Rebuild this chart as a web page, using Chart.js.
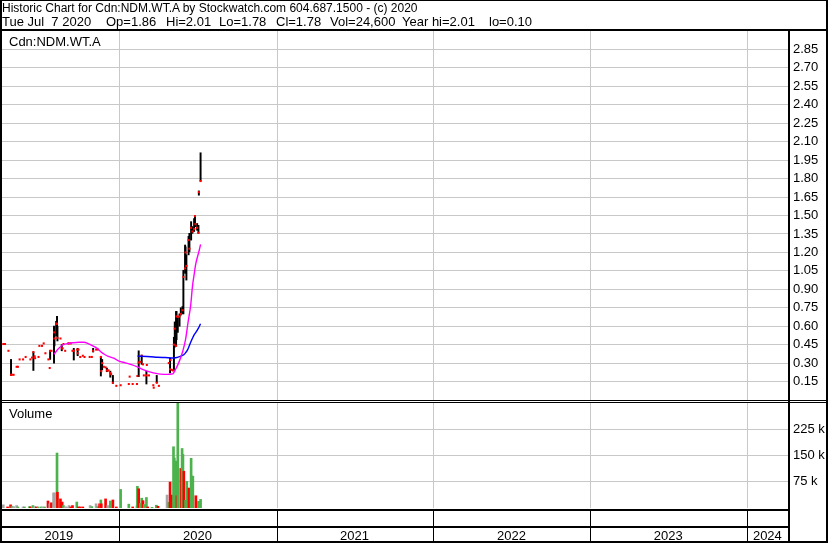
<!DOCTYPE html>
<html>
<head>
<meta charset="utf-8">
<title>Historic Chart for Cdn:NDM.WT.A</title>
<script src="https://cdn.jsdelivr.net/npm/chart.js@4"></script>
<style>
  body { margin: 0; background: #fff; }
  #wrap {
    position: relative;
    width: 830px;
    height: 543px;
    overflow: hidden;
    background: #fff;
    font-family: 'Liberation Sans', Arial, sans-serif;
    font-size: 13px;
    color: #000;
  }
  #wrap canvas { position: absolute; left: 0; }
  #chartPrice { top: 0; }
  #chartVolume { top: 401px; }
  .txt { position: absolute; white-space: pre; line-height: 14px; z-index: 2; }
  .head { font-size: 12px; }
</style>
</head>
<body>
<div id="wrap">
  <canvas id="chartPrice" width="830" height="401"></canvas>
  <canvas id="chartVolume" width="830" height="142"></canvas>
  <div class="txt head" style="left:2px;top:1px">Historic Chart for Cdn:NDM.WT.A by Stockwatch.com 604.687.1500 - (c) 2020</div>
  <div class="txt" style="left:2px;top:15px">Tue Jul  7 2020</div>
  <div class="txt" style="left:106px;top:15px">Op=1.86</div>
  <div class="txt" style="left:166px;top:15px">Hi=2.01</div>
  <div class="txt" style="left:219px;top:15px">Lo=1.78</div>
  <div class="txt" style="left:276px;top:15px">Cl=1.78</div>
  <div class="txt" style="left:330px;top:15px">Vol=24,600</div>
  <div class="txt" style="left:402px;top:15px">Year hi=2.01</div>
  <div class="txt" style="left:489px;top:15px">lo=0.10</div>
  <div class="txt" style="left:9px;top:35px">Cdn:NDM.WT.A</div>
  <div class="txt" style="left:9px;top:407px">Volume</div>
</div>
<script>
// visible time span and year grid
const axisStart = '2019-04-02';
const axisEnd = '2024-04-06';
const yearStarts = ['2020-01-01', '2021-01-01', '2022-01-01', '2023-01-01', '2024-01-01'];
const yearLabels = ['2019', '2020', '2021', '2022', '2023', '2024'];

// right axis ticks
const priceTicks = [0.15, 0.3, 0.45, 0.6, 0.75, 0.9, 1.05, 1.2, 1.35, 1.5, 1.65, 1.8, 1.95, 2.1, 2.25, 2.4, 2.55, 2.7, 2.85];
const volumeTicks = [75000, 150000, 225000];

// daily trades (null high/low = single price day)
const priceDates = [
  '2019-04-05', '2019-04-09', '2019-04-17', '2019-04-23', '2019-04-25', '2019-04-29', '2019-05-06', '2019-05-09', '2019-05-13', '2019-05-21',
  '2019-05-27', '2019-06-07', '2019-06-11', '2019-06-14', '2019-06-17', '2019-06-18', '2019-06-26', '2019-06-28', '2019-07-04', '2019-07-08',
  '2019-07-12', '2019-07-19', '2019-07-22', '2019-07-23', '2019-07-26', '2019-08-01', '2019-08-02', '2019-08-06', '2019-08-08', '2019-08-09',
  '2019-08-16', '2019-08-19', '2019-08-21', '2019-08-23', '2019-08-27', '2019-09-03', '2019-09-05', '2019-09-09', '2019-09-13', '2019-09-16',
  '2019-09-24', '2019-09-25', '2019-09-27', '2019-10-01', '2019-10-07', '2019-10-11', '2019-10-23', '2019-10-28', '2019-10-31', '2019-11-07',
  '2019-11-11', '2019-11-18', '2019-11-19', '2019-11-21', '2019-11-25', '2019-11-29', '2019-12-02', '2019-12-04', '2019-12-06', '2019-12-10',
  '2019-12-12', '2019-12-16', '2019-12-24', '2020-01-03', '2020-01-22', '2020-01-24', '2020-01-31', '2020-02-10', '2020-02-11', '2020-02-14',
  '2020-02-18', '2020-02-21', '2020-02-24', '2020-02-26', '2020-03-03', '2020-03-04', '2020-03-09', '2020-03-19', '2020-03-20', '2020-03-27',
  '2020-04-01', '2020-04-24', '2020-04-27', '2020-04-28', '2020-05-01', '2020-05-04', '2020-05-06', '2020-05-08', '2020-05-11', '2020-05-12',
  '2020-05-15', '2020-05-19', '2020-05-22', '2020-05-26', '2020-05-28', '2020-06-01', '2020-06-02', '2020-06-04', '2020-06-09', '2020-06-11',
  '2020-06-15', '2020-06-18', '2020-06-22', '2020-06-24', '2020-06-25', '2020-06-29', '2020-07-02', '2020-07-03', '2020-07-07',
];
const priceCloses = [
  0.455, 0.455, 0.4, 0.205, 0.205, 0.205, 0.27, 0.27, 0.33, 0.33,
  0.35, 0.33, 0.345, 0.39, 0.355, 0.34, 0.35, 0.44, 0.44, 0.46,
  0.38, 0.33, 0.26, 0.4, 0.4, 0.55, 0.5, 0.62, 0.62, 0.505,
  0.5, 0.42, 0.42, 0.455, 0.4, 0.46, 0.46, 0.46, 0.4, 0.4,
  0.41, 0.38, 0.41, 0.35, 0.36, 0.35, 0.35, 0.35, 0.4, 0.41,
  0.41, 0.35, 0.235, 0.3, 0.27, 0.265, 0.24, 0.24, 0.24, 0.22,
  0.21, 0.14, 0.115, 0.12, 0.13, 0.19, 0.13, 0.13, 0.195, 0.305,
  0.31, 0.36, 0.29, 0.2, 0.2, 0.285, 0.2, 0.12, 0.1, 0.14,
  0.115, 0.3, 0.25, 0.325, 0.245, 0.24, 0.45, 0.58, 0.44, 0.68,
  0.675, 0.68, 0.7, 0.73, 1.0, 1.07, 1.2, 1.09, 1.3, 1.23,
  1.4, 1.37, 1.39, 1.495, 1.43, 1.4, 1.36, 1.69, 1.78,
];
const priceHighs = [
  null, null, null, 0.33, null, null, null, null, null, null,
  null, null, null, 0.39, null, null, null, null, null, null,
  null, null, null, 0.4, null, 0.6, 0.53, 0.64, 0.68, 0.6,
  null, 0.45, null, null, null, null, null, null, null, 0.42,
  null, 0.42, null, null, null, null, null, null, 0.42, null,
  null, 0.35, null, 0.33, null, null, 0.26, null, null, 0.235,
  null, 0.2, null, null, null, null, null, null, null, 0.4,
  null, 0.365, null, null, 0.235, null, null, null, null, 0.2,
  null, null, 0.34, null, null, null, 0.51, 0.635, 0.72, 0.72,
  0.68, 0.7, 0.75, 0.76, 1.055, 1.26, 1.245, 1.18, 1.33, 1.355,
  1.45, 1.41, 1.475, 1.495, null, 1.435, 1.42, 1.7, 2.01,
];
const priceLows = [
  null, null, null, 0.2, null, null, null, null, null, null,
  null, null, null, 0.24, null, null, null, null, null, null,
  null, null, null, 0.33, null, 0.3, 0.44, 0.52, 0.54, 0.48,
  null, 0.4, null, null, null, null, null, null, null, 0.325,
  null, 0.36, null, null, null, null, null, null, 0.39, null,
  null, 0.195, null, 0.245, null, null, 0.23, null, null, 0.185,
  null, 0.135, null, null, null, null, null, null, null, 0.19,
  null, 0.29, null, null, 0.13, null, null, null, null, 0.14,
  null, null, 0.22, null, null, null, 0.24, 0.43, 0.44, 0.49,
  0.55, 0.6, 0.69, 0.7, 0.7, 1.03, 1.08, 0.975, 1.18, 1.205,
  1.3, 1.355, 1.37, 1.41, null, 1.38, 1.355, 1.665, 1.78,
];

// moving averages as drawn
const avgShortDates = [
  '2019-08-01', '2019-08-09', '2019-08-20', '2019-09-01', '2019-09-13', '2019-09-28', '2019-10-10', '2019-10-18', '2019-10-29', '2019-11-10',
  '2019-11-17', '2019-11-27', '2019-12-07', '2019-12-18', '2019-12-29', '2020-01-14', '2020-01-28', '2020-02-11', '2020-02-26', '2020-03-13',
  '2020-03-25', '2020-04-05', '2020-04-19', '2020-05-03', '2020-05-10', '2020-05-18', '2020-05-26', '2020-06-02', '2020-06-08', '2020-06-14',
  '2020-06-18', '2020-06-22', '2020-06-26', '2020-07-03', '2020-07-07',
];
const avgShortValues = [
  0.372, 0.408, 0.445, 0.458, 0.465, 0.47, 0.47, 0.46, 0.442, 0.418,
  0.395, 0.37, 0.352, 0.34, 0.318, 0.302, 0.288, 0.27, 0.245, 0.226,
  0.216, 0.21, 0.208, 0.212, 0.25, 0.31, 0.39, 0.49, 0.635, 0.77,
  0.92, 1.02, 1.11, 1.205, 1.265,
];
const avgLongDates = [
  '2020-02-11', '2020-03-13', '2020-03-28', '2020-04-16', '2020-05-06', '2020-05-17', '2020-05-26', '2020-05-31',
  '2020-06-07', '2020-06-10', '2020-06-14', '2020-06-22', '2020-06-26', '2020-07-02', '2020-07-07',
];
const avgLongValues = [
  0.357, 0.352, 0.348, 0.345, 0.342, 0.35, 0.362, 0.375,
  0.41, 0.435, 0.47, 0.53, 0.55, 0.585, 0.62,
];

// volume (u = up, d = down, n = unchanged)
const volumeDates = [
  '2019-04-05', '2019-04-15', '2019-04-22', '2019-04-25', '2019-04-29', '2019-05-06', '2019-05-09', '2019-05-21', '2019-05-24', '2019-06-05',
  '2019-06-07', '2019-06-13', '2019-06-17', '2019-06-21', '2019-06-25', '2019-07-02', '2019-07-05', '2019-07-10', '2019-07-18', '2019-07-22',
  '2019-07-26', '2019-07-31', '2019-08-02', '2019-08-08', '2019-08-09', '2019-08-16', '2019-08-20', '2019-08-23', '2019-08-27', '2019-08-30',
  '2019-09-05', '2019-09-09', '2019-09-13', '2019-09-23', '2019-09-27', '2019-10-01', '2019-10-07', '2019-10-24', '2019-10-28', '2019-11-07',
  '2019-11-11', '2019-11-15', '2019-11-18', '2019-11-19', '2019-11-29', '2019-12-04', '2019-12-10', '2019-12-16', '2019-12-24', '2020-01-03',
  '2020-01-22', '2020-01-31', '2020-02-10', '2020-02-11', '2020-02-14', '2020-02-18', '2020-02-21', '2020-02-24', '2020-02-27', '2020-03-03',
  '2020-03-06', '2020-03-16', '2020-03-26', '2020-03-30', '2020-04-20', '2020-04-24', '2020-04-27', '2020-05-01', '2020-05-05', '2020-05-07',
  '2020-05-11', '2020-05-13', '2020-05-15', '2020-05-22', '2020-05-25', '2020-05-27', '2020-05-29', '2020-06-02', '2020-06-05', '2020-06-10',
  '2020-06-15', '2020-06-17', '2020-06-19', '2020-06-26', '2020-07-02', '2020-07-07',
];
const volumeValues = [
  9000, 3000, 9000, 5000, 4000, 7000, 3000, 3000, 3000, 4000,
  3000, 7000, 4000, 3000, 3000, 3000, 3000, 3000, 20000, 12000,
  15000, 43000, 43000, 157000, 45000, 26000, 17000, 7000, 3000, 3000,
  7000, 3000, 7000, 17000, 3000, 3000, 3000, 7000, 4000, 12000,
  4000, 12000, 23000, 12000, 26000, 7000, 20000, 23000, 3000, 53000,
  11000, 3000, 6000, 62000, 55000, 13000, 28000, 21000, 10000, 30000,
  3000, 2000, 8000, 5000, 37000, 16000, 74000, 37000, 175000, 143000,
  134000, 35000, 310000, 113000, 170000, 153000, 105000, 22000, 76000, 57000,
  142000, 91000, 91000, 35000, 19000, 24600,
];
const volumeMoves = [
  'n', 'd', 'd', 'u', 'n', 'n', 'u', 'n', 'u', 'u',
  'd', 'u', 'n', 'd', 'u', 'u', 'n', 'u', 'd', 'n',
  'd', 'n', 'n', 'u', 'd', 'd', 'd', 'u', 'n', 'n',
  'n', 'd', 'd', 'u', 'd', 'd', 'd', 'n', 'u', 'n',
  'u', 'd', 'u', 'd', 'd', 'n', 'u', 'd', 'd', 'u',
  'u', 'd', 'u', 'u', 'd', 'u', 'u', 'd', 'u', 'u',
  'd', 'u', 'u', 'd', 'n', 'u', 'd', 'd', 'u', 'u',
  'u', 'd', 'u', 'd', 'u', 'u', 'd', 'u', 'u', 'd',
  'u', 'u', 'u', 'd', 'u', 'u',
];

const moveColors = { u: '#4cb34c', d: '#ff0000', n: '#a6a6a6' };
const gridColor = '#c8c8c8';

Chart.defaults.font.family = "'Liberation Sans', Arial, sans-serif";
Chart.defaults.font.size = 13;
Chart.defaults.color = '#000';

const toDay = (date) => {
  const [y, m, d] = date.split('-').map(Number);
  return (Date.UTC(y, m - 1, d) - Date.UTC(2019, 0, 1)) / 86400000;
};

const timeAxis = () => ({
  type: 'linear',
  min: toDay(axisStart),
  max: toDay(axisEnd),
  offset: false,
  grid: { color: gridColor, drawTicks: false, offset: false },
  border: { display: false },
  ticks: { display: false, autoSkip: false },
  afterBuildTicks: (scale) => {
    scale.ticks = yearStarts.map((d) => ({ value: toDay(d) }));
  },
});

const rightAxis = (min, max, ticks, format) => ({
  position: 'right',
  min: min,
  max: max,
  grid: { color: gridColor, drawTicks: false },
  border: { display: true, color: '#000', width: 2 },
  ticks: { padding: 4, autoSkip: false, callback: format },
  afterBuildTicks: (scale) => {
    scale.ticks = ticks.map((v) => ({ value: v }));
  },
  afterFit: (scale) => {
    // fixed label column, no extra room for half-labels at the ends
    scale.width = 41;
    scale.paddingTop = 0;
    scale.paddingBottom = 0;
  },
});

const priceFrame = {
  id: 'priceFrame',
  afterDraw: (chart) => {
    const { ctx, height } = chart;
    ctx.save();
    ctx.fillStyle = '#000';
    ctx.fillRect(0, 0, 828, 1);
    ctx.fillRect(0, 29, 828, 2);
    ctx.fillRect(0, height - 1, 828, 1);
    ctx.fillRect(0, 0, 2, height);
    ctx.fillRect(826, 0, 2, height);
    ctx.restore();
  },
};

const volumeFrame = {
  id: 'volumeFrame',
  afterDraw: (chart) => {
    const { ctx, height, chartArea } = chart;
    const x = chart.scales.x;
    const rowTop = chartArea.bottom + 1;
    ctx.save();
    ctx.fillStyle = '#000';
    ctx.fillRect(0, 1, 828, 1);
    ctx.fillRect(0, rowTop, 790, 2);
    ctx.fillRect(0, rowTop + 17, 790, 2);
    ctx.fillRect(0, height - 2, 828, 2);
    ctx.fillRect(0, 0, 2, height);
    ctx.fillRect(826, 0, 2, height);
    ctx.fillRect(788, 0, 2, height);

    const bounds = [0];
    yearStarts.forEach((d) => {
      const px = x.getPixelForValue(toDay(d));
      bounds.push(px);
      ctx.fillRect(Math.round(px - 0.5), rowTop, 1, height - rowTop);
    });
    bounds.push(chartArea.right);

    ctx.font = "13px 'Liberation Sans', Arial, sans-serif";
    ctx.textAlign = 'center';
    ctx.textBaseline = 'alphabetic';
    yearLabels.forEach((label, i) => {
      ctx.fillText(label, (bounds[i] + bounds[i + 1]) / 2 - 1, height - 3);
    });
    ctx.restore();
  },
};

const setPriceChart = () => {
  const chartPrice = document.querySelector('#chartPrice');

  const closes = priceDates.map((d, i) => ({ x: toDay(d), y: priceCloses[i] }));
  const ranges = priceDates
    .map((d, i) => (priceHighs[i] === null ? null : { x: toDay(d), y: [priceLows[i], priceHighs[i]] }))
    .filter((p) => p !== null);
  const avgShort = avgShortDates.map((d, i) => ({ x: toDay(d), y: avgShortValues[i] }));
  const avgLong = avgLongDates.map((d, i) => ({ x: toDay(d), y: avgLongValues[i] }));

  new Chart(chartPrice, {
    type: 'scatter',
    data: {
      datasets: [
        {
          type: 'line',
          data: avgShort,
          borderColor: '#ff00ff',
          borderWidth: 1.4,
          pointRadius: 0,
          cubicInterpolationMode: 'monotone',
          order: 0,
        },
        {
          type: 'line',
          data: avgLong,
          borderColor: '#0000ff',
          borderWidth: 1.4,
          pointRadius: 0,
          cubicInterpolationMode: 'monotone',
          order: 0,
        },
        {
          type: 'scatter',
          data: closes,
          pointStyle: 'rect',
          pointRadius: 1.45,
          pointHoverRadius: 1.45,
          borderWidth: 0,
          backgroundColor: '#ff0000',
          order: 1,
        },
        {
          type: 'bar',
          data: ranges,
          backgroundColor: '#000',
          barThickness: 1.3,
          order: 2,
        },
      ],
    },
    options: {
      responsive: false,
      animation: false,
      devicePixelRatio: 1,
      layout: { autoPadding: false, padding: { top: 31, left: 2, right: 0, bottom: 1 } },
      plugins: { legend: { display: false }, tooltip: { enabled: false } },
      scales: {
        x: timeAxis(),
        y: rightAxis(0, 3, priceTicks, (v) => v.toFixed(2)),
      },
    },
    plugins: [priceFrame],
  });
};

const setVolumeChart = () => {
  const chartVolume = document.querySelector('#chartVolume');

  new Chart(chartVolume, {
    type: 'bar',
    data: {
      datasets: [
        {
          data: volumeDates.map((d, i) => ({ x: toDay(d), y: volumeValues[i] })),
          backgroundColor: volumeMoves.map((m) => moveColors[m]),
          barThickness: 2,
        },
      ],
    },
    options: {
      responsive: false,
      animation: false,
      devicePixelRatio: 1,
      layout: { autoPadding: false, padding: { top: 2, left: 2, right: 0, bottom: 35 } },
      plugins: { legend: { display: false }, tooltip: { enabled: false } },
      scales: {
        x: timeAxis(),
        y: rightAxis(0, 300000, volumeTicks, (v) => `${v / 1000} k`),
      },
    },
    plugins: [volumeFrame],
  });
};

setPriceChart();
setVolumeChart();
</script>
</body>
</html>
